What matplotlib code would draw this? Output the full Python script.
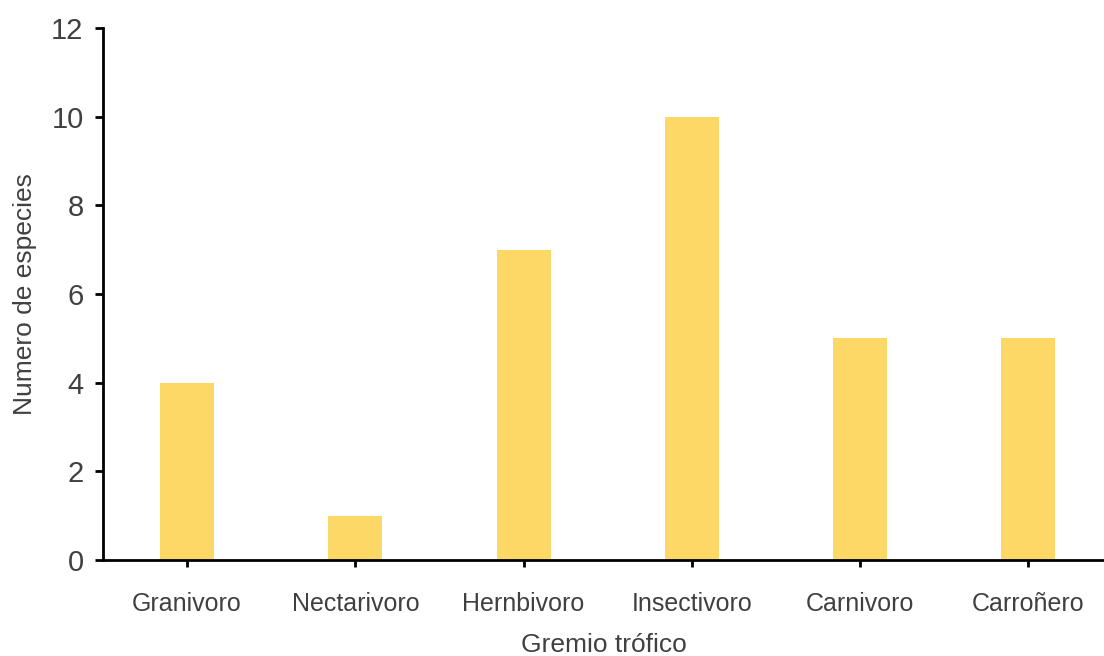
import matplotlib.pyplot as plt

plt.rcParams['font.family'] = ['Liberation Sans Narrow', 'Liberation Sans', 'DejaVu Sans']

# Datos
gremios = ['Granivoro', 'Nectarivoro', 'Hernbivoro', 'Insectivoro', 'Carnivoro', 'Carroñero']
n_especies = [4, 1, 7, 10, 5, 5]
y_ticks = [0, 2, 4, 6, 8, 10, 12]

color_barra = '#FDD866'
color_texto = '#404040'

fig = plt.figure(figsize=(11.04, 6.56), dpi=100)
ax = fig.add_axes([0.0933, 0.1463, 0.9067, 0.8110])

x = range(len(gremios))
ax.bar(x, n_especies, width=0.32, color=color_barra)

ax.set_xlim(-0.5, 5.45)
ax.set_ylim(0, 12)
ax.set_yticks(y_ticks)
ax.set_xticks(list(x))
ax.set_xticklabels(gremios)

ax.spines['top'].set_visible(False)
ax.spines['right'].set_visible(False)
for s in ['left', 'bottom']:
    ax.spines[s].set_linewidth(2)
    ax.spines[s].set_color('black')

ax.tick_params(axis='y', direction='out', length=6, width=2, labelsize=21,
               labelcolor=color_texto, pad=8)
ax.tick_params(axis='x', direction='out', length=5, width=2, labelsize=18,
               labelcolor=color_texto, pad=18)

ax.set_ylabel('Numero de especies', fontsize=19, color=color_texto, labelpad=10)
ax.set_xlabel('Gremio trófico', fontsize=19, color=color_texto, labelpad=12)

fig.savefig('out.png', dpi=100)
